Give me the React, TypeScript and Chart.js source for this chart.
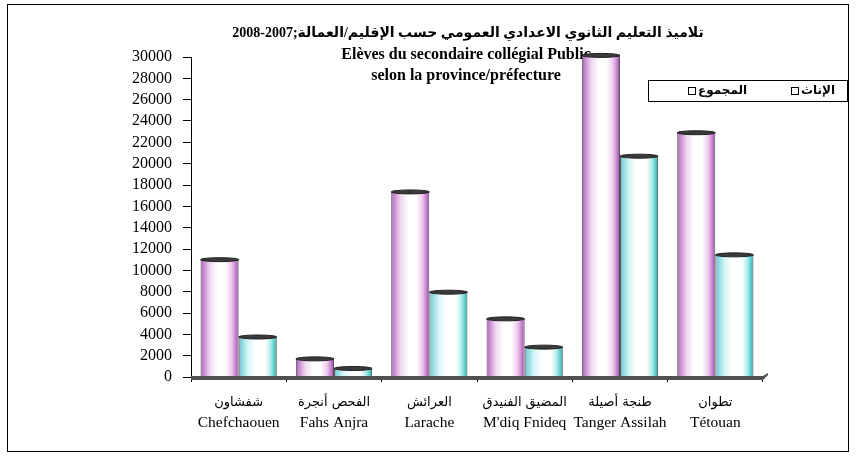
import React, { useEffect, useRef } from 'react';
import { Chart, registerables } from 'chart.js';

Chart.register(...registerables);

const categoriesAr = ['شفشاون', 'الفحص أنجرة', 'العرائش', 'المضيق الفنيدق', 'طنجة أصيلة', 'تطوان'];
const categoriesFr = ['Chefchaouen', 'Fahs Anjra', 'Larache', "M'diq Fnideq", 'Tanger Assilah', 'Tétouan'];
const totalValues = [11000, 1700, 17350, 5450, 30150, 22900];
const femaleValues = [3750, 800, 7950, 2800, 20700, 11450];
const seriesLabels = ['المجموع', 'الإناث'];
const titleLines = [
  'تلاميذ التعليم الثانوي الاعدادي العمومي حسب الإقليم/العمالة;2007-2008',
  'Elèves du secondaire collégial Public',
  'selon la province/préfecture',
];
const yMin = 0;
const yMax = 30000;
const yStep = 2000;

const totalStops: [number, string][] = [
  [0, '#a060b0'], [0.08, '#c888d0'], [0.25, '#f0d8f0'], [0.45, '#ffffff'],
  [0.65, '#ffffff'], [0.82, '#ecc8ec'], [0.93, '#c478cc'], [1, '#9050a0'],
];
const femaleStops: [number, string][] = [
  [0, '#b090d0'], [0.06, '#80d4dc'], [0.25, '#d8f6f6'], [0.45, '#ffffff'],
  [0.7, '#ffffff'], [0.85, '#a8eaea'], [0.95, '#48c4c4'], [1, '#309898'],
];

const CAT_PCT = 0.8;

function gradientFor(stops: [number, string][]) {
  return (ctx: any) => {
    const chart = ctx.chart;
    const xs = chart.scales && chart.scales.x;
    if (!xs || ctx.type !== 'data' || !isFinite(xs.left)) return stops[3][1];
    const n = chart.data.labels.length;
    const cat = (xs.right - xs.left) / n;
    const group = cat * CAT_PCT;
    const bw = group / 2;
    const cx = xs.getPixelForValue(ctx.dataIndex);
    const left = cx - group / 2 + ctx.datasetIndex * bw;
    const g = chart.ctx.createLinearGradient(left, 0, left + bw, 0);
    stops.forEach(([o, c]) => g.addColorStop(o, c));
    return g;
  };
}

const decorPlugin = {
  id: 'decor',
  beforeDraw(chart: any) {
    const ctx = chart.ctx;
    ctx.save();
    ctx.fillStyle = '#ffffff';
    ctx.fillRect(0, 0, chart.width, chart.height);
    ctx.strokeStyle = '#000';
    ctx.lineWidth = 1;
    ctx.strokeRect(7.5, 4.5, 841, 447);
    ctx.restore();
  },
  beforeDatasetsDraw(chart: any) {
    const ctx = chart.ctx;
    ctx.save();
    ctx.fillStyle = '#000';
    ctx.textAlign = 'center';
    ctx.textBaseline = 'middle';
    ctx.direction = 'rtl';
    ctx.font = "bold 14px 'Liberation Serif', 'DejaVu Sans'";
    ctx.fillText(titleLines[0], 468, 33);
    ctx.direction = 'ltr';
    ctx.font = "bold 16px 'Liberation Serif'";
    ctx.fillText(titleLines[1], 466, 55);
    ctx.fillText(titleLines[2], 466, 76);
    // Arabic line of the category labels, placed at the x scale's tick positions
    const xs = chart.scales.x;
    ctx.font = "13px 'DejaVu Sans'";
    ctx.direction = 'rtl';
    chart.data.labels.forEach((lab: any, i: number) => {
      ctx.fillText(lab[0], xs.getPixelForTick(i), 403);
    });
    ctx.restore();
  },
  afterDatasetsDraw(chart: any) {
    const ctx = chart.ctx;
    const area = chart.chartArea;
    const base = chart.scales.y.getPixelForValue(0);
    ctx.save();
    ctx.fillStyle = '#505050';
    ctx.fillRect(area.left, base - 1, area.right - area.left, 4);
    ctx.beginPath();
    ctx.moveTo(area.right, base + 3);
    ctx.lineTo(area.right + 5, base - 2);
    ctx.lineTo(area.right + 5, base - 4);
    ctx.lineTo(area.right, base - 1);
    ctx.closePath();
    ctx.fill();
    chart.data.datasets.forEach((_: any, di: number) => {
      const meta = chart.getDatasetMeta(di);
      meta.data.forEach((el: any) => {
        const p = el.getProps(['x', 'y', 'width'], true);
        ctx.beginPath();
        ctx.ellipse(p.x, p.y, p.width / 2, 2, 0, 0, Math.PI * 2);
        ctx.fillStyle = '#3a3a3a';
        ctx.fill();
        ctx.strokeStyle = '#222';
        ctx.lineWidth = 1;
        ctx.stroke();
      });
    });
    ctx.restore();
  },
  afterDraw(chart: any) {
    const ctx = chart.ctx;
    ctx.save();
    ctx.fillStyle = '#fff';
    ctx.fillRect(648.5, 80.5, 199, 21);
    ctx.strokeStyle = '#000';
    ctx.lineWidth = 1;
    ctx.strokeRect(648.5, 80.5, 199, 21);
    const xs = [688, 791];
    ctx.font = "bold 12px 'DejaVu Sans'";
    ctx.textBaseline = 'middle';
    ctx.textAlign = 'left';
    chart.data.datasets.forEach((ds: any, i: number) => {
      const x = xs[i];
      ctx.strokeRect(x + 0.5, 87.5, 7, 7);
      ctx.fillStyle = '#000';
      ctx.fillText(ds.label, x + 10, 91);
    });
    ctx.restore();
  },
};

export default function App() {
  const ref = useRef<HTMLCanvasElement | null>(null);
  useEffect(() => {
    if (!ref.current) return;
    const chart = new Chart(ref.current, {
      type: 'bar',
      data: {
        labels: categoriesAr.map((a, i) => [a, categoriesFr[i]]),
        datasets: [
          {
            label: seriesLabels[0],
            data: totalValues,
            backgroundColor: gradientFor(totalStops) as any,
            borderColor: '#555',
            borderWidth: { left: 1, right: 1, top: 0, bottom: 0 } as any,
            borderSkipped: false,
            barPercentage: 1,
            categoryPercentage: CAT_PCT,
            clip: false as any,
          },
          {
            label: seriesLabels[1],
            data: femaleValues,
            backgroundColor: gradientFor(femaleStops) as any,
            borderColor: '#555',
            borderWidth: { left: 1, right: 1, top: 0, bottom: 0 } as any,
            borderSkipped: false,
            barPercentage: 1,
            categoryPercentage: CAT_PCT,
            clip: false as any,
          },
        ],
      },
      options: {
        responsive: false,
        animation: false,
        devicePixelRatio: 1,
        layout: { padding: { top: 57, right: 93, bottom: 0, left: 0 } },
        plugins: {
          legend: { display: false },
          title: { display: false },
          tooltip: { enabled: false },
        },
        scales: {
          x: {
            offset: true,
            border: { display: false },
            grid: {
              offset: true,
              drawOnChartArea: false,
              drawTicks: true,
              tickLength: 5,
              color: '#000',
            },
            ticks: {
              autoSkip: false,
              maxRotation: 0,
              padding: 11,
              color: '#000',
              font: { family: "'Liberation Serif'", size: 15.5, lineHeight: 1.3 },
              callback: (_v: any, i: number) => ['', categoriesFr[i]],
            },
            afterFit: (s: any) => { s.height = 79; },
          },
          y: {
            min: yMin,
            max: yMax,
            border: { display: true, color: '#000', width: 1 },
            grid: { drawOnChartArea: false, tickLength: 8, color: '#000' },
            ticks: {
              stepSize: yStep,
              autoSkip: false,
              padding: 11,
              color: '#000',
              font: { family: "'Liberation Serif'", size: 16 },
              callback: (v: any) => String(v),
            },
            afterFit: (s: any) => { s.width = 191; },
          },
        },
      },
      plugins: [decorPlugin],
    });
    return () => chart.destroy();
  }, []);
  return (
    <div style={{ position: 'fixed', left: 0, top: 0, width: 856, height: 456, background: '#fff' }}>
      <canvas ref={ref} width={856} height={456} style={{ display: 'block', width: 856, height: 456 }} />
    </div>
  );
}
